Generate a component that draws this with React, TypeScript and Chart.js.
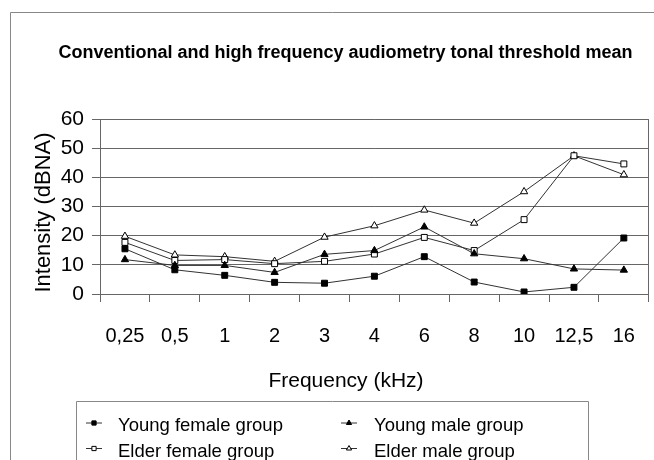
import React, { useEffect, useRef } from 'react';
import { Chart, registerables } from 'chart.js';

Chart.register(...registerables);

const frequencies = ['0,25', '0,5', '1', '2', '3', '4', '6', '8', '10', '12,5', '16'];
const youngFemale = [15.5, 8.3, 6.4, 4.0, 3.7, 6.1, 12.8, 4.1, 0.7, 2.3, 19.2];
const youngMale = [11.8, 9.8, 9.8, 7.4, 13.6, 14.9, 23.0, 13.8, 12.1, 8.6, 8.2];
const elderFemale = [17.7, 11.5, 11.8, 10.4, 11.2, 13.7, 19.4, 14.9, 25.5, 47.4, 44.6];
const elderMale = [19.8, 13.4, 12.8, 11.2, 19.5, 23.4, 28.8, 24.3, 35.1, 47.4, 40.9];
const seriesNames = ['Young female group', 'Young male group', 'Elder female group', 'Elder male group'];

const TITLE = 'Conventional and high frequency audiometry tonal threshold mean';
const Y_TITLE = 'Intensity (dBNA)';
const X_TITLE = 'Frequency (kHz)';
const FONT = "'Liberation Sans', Arial, sans-serif";

type Marker = { style: 'rect' | 'triangle'; filled: boolean };
const markers: Marker[] = [
  { style: 'rect', filled: true },
  { style: 'triangle', filled: true },
  { style: 'rect', filled: false },
  { style: 'triangle', filled: false },
];

function drawMarker(ctx: CanvasRenderingContext2D, m: Marker, x: number, y: number, r: number) {
  ctx.beginPath();
  if (m.style === 'rect') {
    const s = r * Math.SQRT1_2;
    ctx.rect(x - s, y - s, 2 * s, 2 * s);
  } else {
    ctx.moveTo(x, y - r);
    ctx.lineTo(x + r * 0.866, y + r * 0.5);
    ctx.lineTo(x - r * 0.866, y + r * 0.5);
    ctx.closePath();
  }
  ctx.fillStyle = m.filled ? '#000' : '#fff';
  ctx.fill();
  ctx.strokeStyle = '#000';
  ctx.lineWidth = 1;
  ctx.stroke();
}

const decorPlugin = {
  id: 'decor',
  beforeDraw(chart: any) {
    const ctx: CanvasRenderingContext2D = chart.ctx;
    ctx.save();
    ctx.fillStyle = '#fff';
    ctx.fillRect(0, 0, chart.width, chart.height);
    ctx.strokeStyle = '#888';
    ctx.lineWidth = 1;
    ctx.beginPath();
    ctx.moveTo(10.5, chart.height + 2);
    ctx.lineTo(10.5, 12.5);
    ctx.lineTo(chart.width + 2, 12.5);
    ctx.stroke();
    ctx.restore();
  },
  afterDraw(chart: any) {
    const ctx: CanvasRenderingContext2D = chart.ctx;
    const area = chart.chartArea;
    ctx.save();
    ctx.strokeStyle = '#666';
    ctx.lineWidth = 1;
    ctx.beginPath();
    ctx.moveTo(Math.round(area.right) - 0.5, area.top);
    ctx.lineTo(Math.round(area.right) - 0.5, area.bottom);
    ctx.stroke();

    ctx.fillStyle = '#000';
    ctx.font = `bold 18px ${FONT}`;
    ctx.textAlign = 'center';
    ctx.textBaseline = 'alphabetic';
    ctx.fillText(TITLE, 345.5, 58);

    ctx.font = `21px ${FONT}`;
    ctx.fillText(X_TITLE, 346, 387);

    ctx.save();
    ctx.translate(44, 212.5);
    ctx.rotate(-Math.PI / 2);
    ctx.font = `22px ${FONT}`;
    ctx.textBaseline = 'middle';
    ctx.fillText(Y_TITLE, 0, 0);
    ctx.restore();

    ctx.strokeStyle = '#888';
    ctx.beginPath();
    ctx.rect(76.5, 401.5, 512, 80);
    ctx.stroke();

    const cols = [{ mx: 94, tx: 118 }, { mx: 349, tx: 374 }];
    const rows = [{ my: 422.5, ty: 431 }, { my: 448, ty: 457 }];
    ctx.font = `18.5px ${FONT}`;
    ctx.textAlign = 'left';
    ctx.textBaseline = 'alphabetic';
    seriesNames.forEach((name, i) => {
      const c = cols[i % 2];
      const r = rows[Math.floor(i / 2)];
      ctx.strokeStyle = '#333';
      ctx.lineWidth = 1;
      ctx.beginPath();
      ctx.moveTo(c.mx - 8, r.my + 0.5);
      ctx.lineTo(c.mx + 8, r.my + 0.5);
      ctx.stroke();
      drawMarker(ctx, markers[i], c.mx, r.my + 0.5, 3);
      ctx.fillStyle = '#000';
      ctx.fillText(name, c.tx, r.ty);
    });
    ctx.restore();
  },
};

export default function App() {
  const ref = useRef<HTMLCanvasElement | null>(null);
  useEffect(() => {
    if (!ref.current) return;
    const seriesData = [youngFemale, youngMale, elderFemale, elderMale];
    const chart = new Chart(ref.current, {
      type: 'line',
      data: {
        labels: frequencies,
        datasets: seriesData.map((d, i) => ({
          label: seriesNames[i],
          data: d,
          borderColor: '#333',
          borderWidth: 1,
          pointStyle: markers[i].style,
          pointRadius: 4.2,
          pointBackgroundColor: markers[i].filled ? '#000' : '#fff',
          pointBorderColor: '#000',
          pointBorderWidth: 1,
          tension: 0,
        })),
      },
      options: {
        animation: false,
        responsive: false,
        events: [],
        layout: { padding: { top: 119, left: 0, right: 1, bottom: 106 } },
        plugins: { legend: { display: false }, title: { display: false }, tooltip: { enabled: false } },
        scales: {
          x: {
            offset: true,
            grid: { offset: true, drawOnChartArea: false, color: '#666', tickLength: 8, tickColor: '#666' },
            border: { color: '#666' },
            ticks: { color: '#000', font: { family: FONT, size: 20, lineHeight: 3.4 }, padding: 0, maxRotation: 0, autoSkip: false },
            afterFit: (s: any) => { s.height = 60; },
          },
          y: {
            min: 0,
            max: 60,
            ticks: { stepSize: 10, color: '#000', font: { family: FONT, size: 21 }, padding: 8 },
            grid: { color: '#666', tickLength: 8, tickColor: '#666' },
            border: { color: '#666' },
            afterFit: (s: any) => { s.width = 100; },
          },
        },
      },
      plugins: [decorPlugin],
    });
    return () => chart.destroy();
  }, []);
  return (
    <div style={{ position: 'absolute', left: 0, top: 0, width: 654, height: 460 }}>
      <canvas ref={ref} width={654} height={460} />
    </div>
  );
}
